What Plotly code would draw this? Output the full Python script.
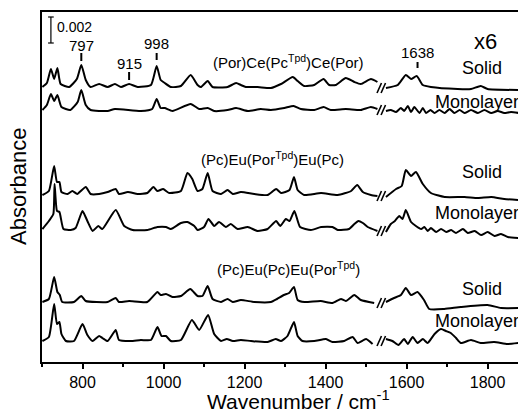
import plotly.graph_objects as go

# ---------------- data (wavenumber / cm-1, relative absorbance in arbitrary units) -------------
# None marks the axis break between ~1530 and ~1550 cm-1
ts_x = [701,712,722,730,738,746,767,786,797,808,820,841,862,880,895,915,936,969,983,993,1003,1018,1043,1067,1084,1092,1109,1121,1158,1179,1191,1203,1232,1265,1290,1319,1331,1347,1372,1395,1409,1425,1450,1471,1487,1512,1528,None,1549,1578,1598,1611,1625,1640,1660,1726,1759,1783,1800,1877]
ts_y = [0,4,18,8,19,3,0,8,22,7,0,3,0,3,0,3,0,2,21,7,4,0,1,12,2,0,6,0,0,4,2,0,0,-1,3,10,6,1,2,8,2,2,9,5,3,8,5,None,-1,2,12,8,11,2,0,-2,-2,1,-2,-3]

tm_x = [701,712,722,730,738,748,770,788,797,808,820,862,880,944,972,983,993,1003,1022,1067,1088,1109,1125,1158,1179,1208,1240,1265,1298,1321,1339,1372,1395,1413,1450,1487,1512,1528,None,1549,1561,1574,1586,1594,1603,1611,1619,1632,1640,1648,1659,1669,1681,1694,1706,1718,1731,1743,1759,1776,1792,1809,1825,1841,1858,1877]
tm_y = [0,5,16,9,15,3,0,8,20,5,0,-1,1,-1,1,11,2,2,-1,6,1,2,-1,0,2,-1,1,0,2,4,1,0,3,0,1,0,3,1,None,-1,0,-2,2,-1,4,-2,3,-3,2,-3,0,-3,0,-3,1,-3,0,-3,0,-3,0,-3,-1,-3,-2,-3]

ms_x = [701,717,730,737,743,748,763,775,787,808,820,841,862,882,890,912,936,960,975,985,999,1014,1043,1059,1071,1084,1096,1109,1121,1142,1158,1171,1191,1224,1257,1278,1290,1311,1322,1331,1347,1389,1430,1463,1478,1492,1512,1528,None,1549,1574,1588,1598,1611,1623,1640,1660,1694,1743,1776,1809,1841,1877]
ms_y = [-1,3,28,12,12,2,0,3,0,7,0,0,2,5,0,2,0,1,7,3,5,1,3,21,15,3,5,21,3,0,4,0,2,0,-1,5,1,4,17,4,-1,1,-1,3,9,2,-1,-2,None,-3,5,8,24,18,22,10,1,-3,-3,-4,-3,-5,-6]

mm_x = [701,717,728,731,737,743,753,771,783,800,812,825,839,849,882,903,924,960,985,1006,1018,1043,1059,1076,1084,1100,1111,1125,1137,1154,1166,1183,1208,1232,1257,1278,1288,1302,1311,1323,1337,1364,1389,1417,1430,1458,1471,1481,1492,1504,1528,None,1549,1561,1571,1582,1590,1598,1611,1623,1636,1644,1652,1660,1673,1685,1698,1710,1722,1739,1751,1768,1784,1800,1817,1833,1850,1877]
mm_y = [0,8,15,45,18,17,0,-1,1,18,8,-2,3,0,19,3,-1,-1,2,2,0,6,7,3,-1,2,10,3,7,2,5,0,2,-2,0,8,3,10,8,18,2,-1,2,2,-1,0,5,8,6,2,-2,None,-3,5,8,13,10,19,7,3,0,2,-2,1,-3,0,-3,-1,-4,0,-4,-2,-6,-3,-7,-5,-8,-9]

bs_x = [701,717,730,738,744,750,779,797,808,862,882,890,915,960,985,993,1006,1022,1043,1066,1084,1096,1109,1121,1142,1158,1171,1191,1224,1265,1280,1297,1310,1322,1331,1348,1388,1417,1438,1450,1471,1487,1520,None,1549,1569,1586,1598,1611,1627,1643,1656,1693,1734,1800,1833,1877]
bs_y = [0,3,25,10,7,0,0,6,1,0,4,0,1,0,10,7,8,5,6,13,6,6,16,3,0,3,0,2,0,0,3,7,9,15,2,0,1,-1,3,1,7,2,-1,None,0,4,7,14,7,10,2,-7,-7,-5,-3,-6,-6]

bm_x = [701,717,730,737,743,748,759,779,800,812,825,841,849,862,882,890,919,944,969,985,995,1006,1018,1043,1070,1088,1110,1125,1142,1156,1171,1191,1216,1257,1277,1290,1306,1322,1331,1343,1372,1401,1417,1446,1467,1479,1500,1516,None,1549,1565,1580,1594,1603,1615,1627,1640,1652,1669,1685,1697,1709,1722,1734,1759,1783,1816,1849,1877]
bm_y = [0,4,37,17,19,7,0,0,17,6,0,5,3,0,11,1,0,1,1,14,5,5,0,1,21,11,26,7,0,2,0,1,0,-1,2,0,5,19,5,0,0,2,-1,0,4,-2,2,-3,None,2,0,-4,2,-3,4,-2,2,-2,7,12,10,8,3,-2,1,-2,-1,-3,-2]

series_x = [ts_x, tm_x, ms_x, mm_x, bs_x, bm_x]
series_y = [ts_y, tm_y, ms_y, mm_y, bs_y, bm_y]
series_offset = [275, 252, 168, 133, 60, 21]
series_break_level = [-1, 0, -2, -2, -1, 0]

compounds = ["(Por)Ce(Pc<sup>Tpd</sup>)Ce(Por)",
             "(Pc)Eu(Por<sup>Tpd</sup>)Eu(Pc)",
             "(Pc)Eu(Pc)Eu(Por<sup>Tpd</sup>)"]
peak_labels = ["797", "915", "998", "1638"]
peak_pos = [797, 915, 983, 1627]

FONT = "Arial, Liberation Sans, sans-serif"

fig = go.Figure()
for xs, ys, off in zip(series_x, series_y, series_offset):
    fig.add_trace(go.Scatter(
        x=xs, y=[None if v is None else v + off for v in ys],
        mode="lines", line=dict(color="black", width=2, shape="spline", smoothing=0.5),
        connectgaps=False, hoverinfo="skip"))

shapes = []
# axis-break marks "//"
for off, lvl in zip(series_offset, series_break_level):
    base = off + lvl
    for x0 in (1527, 1537):
        shapes.append(dict(type="line", xref="x", yref="y", x0=x0, x1=x0 + 11,
                           y0=base - 5, y1=base + 5, line=dict(color="black", width=1.6)))

# scale bar (0.002)
sb_x, sb_top, sb_bot = 722, 345, 319
shapes.append(dict(type="line", xref="x", yref="y", x0=sb_x, x1=sb_x, y0=sb_bot, y1=sb_top,
                   line=dict(color="black", width=1.2)))
for yy in (sb_bot, sb_top):
    shapes.append(dict(type="line", xref="x", yref="y", x0=sb_x - 7, x1=sb_x + 7, y0=yy, y1=yy,
                       line=dict(color="black", width=1.2)))

# peak markers
peak_tick = [(301, 309), (282, 290), (302, 309), (294, 300)]
peak_text_y = [317, 299, 319, 310]
annotations = []
for lab, px, (t0, t1), ty in zip(peak_labels, peak_pos, peak_tick, peak_text_y):
    shapes.append(dict(type="line", xref="x", yref="y", x0=px, x1=px, y0=t0, y1=t1,
                       line=dict(color="black", width=2)))
    annotations.append(dict(x=px, y=ty, xref="x", yref="y", text=lab, showarrow=False,
                            font=dict(family=FONT, size=15, color="black"),
                            xanchor="center", yanchor="middle"))

annotations.append(dict(x=732, y=335, xref="x", yref="y", text="0.002", showarrow=False,
                        font=dict(family=FONT, size=14, color="black"), xanchor="left", yanchor="middle"))

comp_pos = [(1309, 301), (1270, 204), (1309, 94)]
for txt, (cx, cy) in zip(compounds, comp_pos):
    annotations.append(dict(x=cx, y=cy, xref="x", yref="y", text=txt, showarrow=False,
                            font=dict(family=FONT, size=15, color="black"),
                            xanchor="center", yanchor="middle"))

annotations.append(dict(x=1795, y=321, xref="x", yref="y", text="x6", showarrow=False,
                        font=dict(family=FONT, size=22, color="black"), xanchor="center", yanchor="middle"))
for sy in (294, 190, 73):
    annotations.append(dict(x=1786, y=sy, xref="x", yref="y", text="Solid", showarrow=False,
                            font=dict(family=FONT, size=18, color="black"), xanchor="center", yanchor="middle"))
for my in (260, 149, 41):
    annotations.append(dict(x=1664, y=my, xref="x", yref="y", text="Monolayer", showarrow=False,
                            font=dict(family=FONT, size=18, color="black"), xanchor="left", yanchor="middle"))

annotations.append(dict(x=0, y=0.5, xref="paper", yref="paper", xshift=-24, text="Absorbance",
                        textangle=-90, showarrow=False, font=dict(family=FONT, size=22, color="black"),
                        xanchor="center", yanchor="middle"))
annotations.append(dict(x=0.538, y=-0.148, xref="paper", yref="paper",
                        text="Wavenumber / cm<sup>-1</sup>", showarrow=False,
                        font=dict(family=FONT, size=21, color="black"), xanchor="center", yanchor="bottom",
                        borderpad=0))

fig.update_layout(
    width=518, height=414, margin=dict(l=42, r=0, t=12, b=52),
    plot_bgcolor="white", paper_bgcolor="white", showlegend=False,
    shapes=shapes, annotations=annotations,
    xaxis=dict(range=[700, 1875], showline=True, linecolor="black", linewidth=2, mirror=True,
               ticks="outside", ticklen=5, tickwidth=1.5, tickcolor="black",
               tick0=800, dtick=200, tickfont=dict(family=FONT, size=16, color="black"),
               minor=dict(tick0=700, dtick=100, ticks="outside", ticklen=3, tickcolor="black", tickwidth=1.5),
               showgrid=False, zeroline=False),
    yaxis=dict(range=[0, 350], showline=True, linecolor="black", linewidth=2,
               showticklabels=False, ticks="", showgrid=False, zeroline=False),
)

fig.write_html("out.html")
